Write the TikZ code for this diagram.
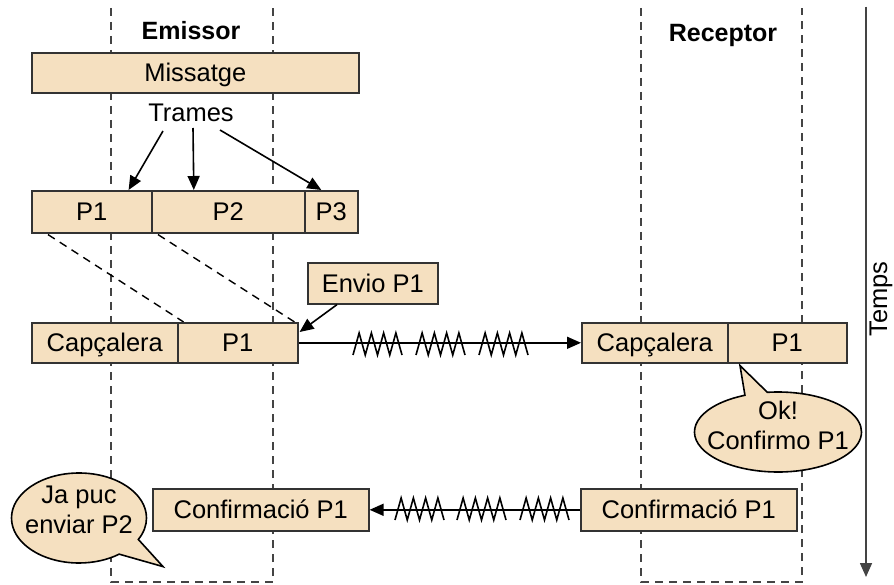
\documentclass[tikz,border=0pt]{standalone}
\usepackage{fontspec}
\setmainfont{Liberation Sans}
\usetikzlibrary{arrows.meta,calc,shapes.callouts}
\pgfdeclarelayer{background}
\pgfsetlayers{background,main}
\definecolor{paper}{HTML}{F5E0C0}
\definecolor{edge}{HTML}{333333}
\definecolor{lanegray}{HTML}{444444}

\begin{document}
\begin{tikzpicture}[x=1pt,y=-1pt,
  every node/.style={font=\fontsize{25.5}{30}\selectfont, text=black},
  box/.style={draw=edge, fill=paper, line width=1.6pt, inner sep=0pt, anchor=north west,
    minimum height=40, text height=18.3pt, text depth=0pt},
  lane/.style={draw=lanegray, line width=1.6pt, dash pattern=on 8pt off 6pt},
  arr/.style={line width=1.6pt, -{Triangle[length=14pt,width=12pt]}},
  guide/.style={line width=1.4pt, dash pattern=on 8pt off 6pt},
  bubble/.style={ellipse callout, draw=black, fill=paper, line width=1.6pt, align=center,
    inner xsep=-20pt, inner ysep=-8pt},
  noise/.pic={\draw[line width=1.6pt, line join=miter]
    (0,11) -- (6.125,-11) -- (12.25,11) -- (18.375,-11) -- (24.5,11)
    -- (30.625,-11) -- (36.75,11) -- (42.875,-11) -- (49,11);}
]
\useasboundingbox (0,0) rectangle (894,585);

% lane titles
\node[font=\fontsize{25}{30}\selectfont\bfseries] (emissor) at (191,31) {Emissor};
\node[font=\fontsize{25}{30}\selectfont\bfseries] (receptor) at (723,35) {Receptor};

% message and its frames
\node[box, minimum width=327] (msg) at (31,52) {Missatge};
\node (trames) at (191,113) {Trames};
\node[box, minimum width=120, minimum height=42] (f1) at (31,190) {P1};
\node[box, minimum width=153, minimum height=42] (f2) at (151,190) {P2};
\node[box, minimum width=53, minimum height=42] (f3) at (304,190) {P3};

\draw[arr] ($(trames.center)+(-28,18)$) -- ($(f1.north east)+(-24,0)$);
\draw[arr] ($(trames.center)+(2,15)$) -- ($(f2.north)+(-34.5,0)$);
\draw[arr] ($(trames.center)+(29,17)$) -- ($(f3.north)+(-10,0)$);

% packet at the sender
\node[box, minimum width=130, minimum height=41] (envio) at (307,262) {Envio P1};
\node[box, minimum width=146] (scap) at (31,322) {Capçalera};
\node[box, minimum width=120] (sp1) at (177,322) {P1};
\draw[arr] ($(envio.south west)+(30,0)$) -- ($(sp1.north east)+(1,10)$);

% packet at the receiver
\node[box, minimum width=146] (rcap) at (581,322) {Capçalera};
\node[box, minimum width=119] (rp1) at (727,322) {P1};

% noisy channel, forward
\draw[arr] (sp1.east) -- (rcap.west);
\pic at (353,344) {noise};
\pic at (416,344) {noise};
\pic at (479,344) {noise};

% the text sits a little above the middle of each bubble (zero-width strut adds depth)
\node[bubble, minimum width=167, minimum height=80,
      callout absolute pointer={($(rp1.south west)+(13,2)$)}, callout pointer arc=16]
      (okc) at (778,432) {Ok!\\Confirmo P1\rule[-14pt]{0pt}{14pt}};

% acknowledgement
\node[box, minimum width=216, minimum height=42] (lconf) at (152,488) {Confirmació P1};
\node[box, minimum width=216, minimum height=42] (rconf) at (580,488) {Confirmació P1};
\draw[arr] (rconf.west) -- (lconf.east);
\pic at (395,509) {noise};
\pic at (457,509) {noise};
\pic at (520,509) {noise};

\node[bubble, minimum width=135, minimum height=90,
      callout absolute pointer={($(lconf.south west)+(11,35)$)}, callout pointer arc=25]
      (jac) at (79,518) {Ja puc\\enviar P2\rule[-16pt]{0pt}{16pt}};

% time axis
\coordinate (ttop) at (866,7);
\coordinate (tbot) at (866,577);
\draw[arr, draw=lanegray, fill=black] (ttop) -- (tbot);
\node[rotate=90, anchor=base, inner sep=0pt] (temps) at (887,299) {Temps};

\begin{pgfonlayer}{background}
  \draw[lane] (111,8) -- (111,582) -- (273,582) -- (273,8);
  \draw[lane] (641,8) -- (641,582) -- (802,582) -- (802,8);
  \draw[guide] ($(f1.south west)+(17,1)$) -- ($(scap.north east)+(5,0)$);
  \draw[guide] ($(f2.south west)+(7,1)$) -- ($(sp1.north east)+(-4,0)$);
\end{pgfonlayer}
\end{tikzpicture}
\end{document}
